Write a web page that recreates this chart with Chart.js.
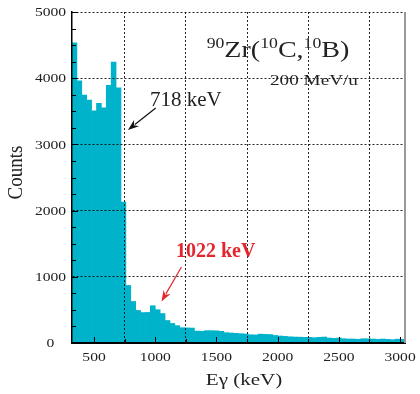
<!DOCTYPE html>
<html><head><meta charset="utf-8">
<script src="https://cdn.jsdelivr.net/npm/chart.js@4/dist/chart.umd.min.js"></script>
<style>html,body{margin:0;padding:0;background:#fff}#wrap{width:420px;height:394px}</style>
</head><body><div id="wrap"><canvas id="c" width="420" height="394"></canvas></div>
<script>
// Histogram bins (keV, bin centres, 40 keV wide)
const binCenters = [340,380,420,460,500,540,580,620,660,700,740,780,820,860,900,940,980,1020,1060,1100,1140,1180,1220,1260,1300,1340,1380,1420,1460,1500,1540,1580,1620,1660,1700,1740,1780,1820,1860,1900,1940,1980,2020,2060,2100,2140,2180,2220,2260,2300,2340,2380,2420,2460,2500,2540,2580,2620,2660,2700,2740,2780,2820,2860,2900,2940,2980,3020];
// Counts per bin
const counts = [4535,3962,3745,3670,3508,3620,3554,3891,4243,3855,2127,869,627,492,460,462,563,503,445,340,295,262,231,228,226,180,176,186,186,184,176,156,151,146,141,136,124,122,134,130,128,114,106,100,94,90,88,86,85,80,86,90,75,70,75,65,60,60,55,65,64,60,55,60,55,50,58,55];
// Axis ticks
const xTickLabels = [500,1000,1500,2000,2500,3000];
const yTickLabels = [0,1000,2000,3000,4000,5000];
const xMinorTicks = [500,750,1000,1250,1500,1750,2000,2250,2500,2750,3000];
const yMinorTicks = [0,250,500,750,1000,1250,1500,1750,2000,2250,2500,2750,3000,3250,3500,3750,4000,4250,4500,4750,5000];
const xRange = [320, 3040];
const yRange = [0, 5000];

const SERIF = '"Liberation Serif","Times New Roman",serif';
const BAR = '#00b2ca';

function txt(ctx, s, x, y, font, color, sx, align, base) {
  ctx.save();
  ctx.font = font; ctx.fillStyle = color;
  ctx.textBaseline = base || 'alphabetic';
  const w = ctx.measureText(s).width * sx;
  let x0 = x;
  if (align === 'center') x0 = x - w / 2; else if (align === 'right') x0 = x - w;
  ctx.translate(x0, y); ctx.scale(sx, 1);
  ctx.textAlign = 'left';
  ctx.fillText(s, 0, 0);
  ctx.restore();
}
function arrow(ctx, x1, y1, x2, y2, color, headLen, headW) {
  const ang = Math.atan2(y2 - y1, x2 - x1);
  ctx.save();
  ctx.strokeStyle = color; ctx.fillStyle = color; ctx.lineWidth = 1.2;
  ctx.beginPath();
  ctx.moveTo(x1, y1);
  ctx.lineTo(x2 - Math.cos(ang) * headLen * 0.8, y2 - Math.sin(ang) * headLen * 0.8);
  ctx.stroke();
  ctx.translate(x2, y2); ctx.rotate(ang);
  ctx.beginPath();
  ctx.moveTo(0, 0); ctx.lineTo(-headLen, -headW / 2); ctx.lineTo(-headLen * 0.7, 0); ctx.lineTo(-headLen, headW / 2);
  ctx.closePath(); ctx.fill();
  ctx.restore();
}

const deco = {
  id: 'deco',
  afterDraw(chart) {
    const {ctx, chartArea: a, scales: {x, y}} = chart;
    ctx.save();
    ctx.strokeStyle = '#000'; ctx.lineWidth = 1;
    xMinorTicks.forEach(v => {
      const px = Math.round(x.getPixelForValue(v)) + 0.5;
      const len = v % 500 === 0 ? 6 : 4;
      ctx.beginPath(); ctx.moveTo(px, a.bottom); ctx.lineTo(px, a.bottom - len); ctx.stroke();
    });
    yMinorTicks.forEach(v => {
      const py = Math.round(y.getPixelForValue(v)) + 0.5;
      const len = v % 1000 === 0 ? 6 : 4;
      ctx.beginPath(); ctx.moveTo(a.left, py); ctx.lineTo(a.left + len, py); ctx.stroke();
    });
    // right frame
    ctx.strokeStyle = '#999'; ctx.lineWidth = 2;
    ctx.beginPath(); ctx.moveTo(a.right, a.top); ctx.lineTo(a.right, a.bottom); ctx.stroke();
    ctx.restore();

    // tick labels
    xTickLabels.forEach(v => txt(ctx, String(v), x.getPixelForValue(v), 358, '12px ' + SERIF, '#222', 1.3, 'center', 'middle'));
    yTickLabels.forEach(v => txt(ctx, String(v), 50.5, y.getPixelForValue(v) + 1, '12px ' + SERIF, '#222', 1.3, 'center', 'middle'));

    // axis titles
    txt(ctx, 'Eγ (keV)', 244, 385, '17.5px ' + SERIF, '#222', 1.2, 'center');
    ctx.save();
    ctx.translate(22, 172.5); ctx.scale(1.15, 1); ctx.rotate(-Math.PI / 2);
    ctx.font = '19px ' + SERIF; ctx.fillStyle = '#222'; ctx.textAlign = 'center'; ctx.textBaseline = 'alphabetic';
    ctx.fillText('Counts', 0, 0);
    ctx.restore();

    // reaction label
    const parts = [['90', true], ['Zr(', false], ['10', true], ['C,', false], ['10', true], ['B)', false]];
    let cx = x.getPixelForValue(1420);
    const by = y.getPixelForValue(4325);
    const sx = 1.22;
    parts.forEach(([s, sup]) => {
      const f = (sup ? '14.5px ' : '23px ') + SERIF;
      ctx.save(); ctx.font = f; const w = ctx.measureText(s).width * sx; ctx.restore();
      txt(ctx, s, cx, sup ? by - 8.5 : by, f, '#222', sx, 'left');
      cx += w;
    });
    txt(ctx, '200 MeV/u', x.getPixelForValue(1937), y.getPixelForValue(3897), '15px ' + SERIF, '#222', 1.28, 'left');

    // 718 keV
    txt(ctx, '718 keV', x.getPixelForValue(957), y.getPixelForValue(3580), '20px ' + SERIF, '#222', 1.05, 'left');
    arrow(ctx, x.getPixelForValue(1004), y.getPixelForValue(3550), x.getPixelForValue(777), y.getPixelForValue(3218), '#111', 11, 8);
    // 1022 keV
    txt(ctx, '1022 keV', x.getPixelForValue(1169), y.getPixelForValue(1299), 'bold 20px ' + SERIF, '#e3262e', 1.0, 'left');
    arrow(ctx, x.getPixelForValue(1214), y.getPixelForValue(1148), x.getPixelForValue(1051), y.getPixelForValue(627), '#e3262e', 11, 8);
  }
};

new Chart(document.getElementById('c'), {
  type: 'bar',
  data: {
    datasets: [{
      data: binCenters.map((c, i) => ({x: c, y: counts[i]})),
      backgroundColor: BAR,
      borderWidth: 0,
      barPercentage: 1,
      categoryPercentage: 1,
      grouped: false
    }]
  },
  options: {
    responsive: false,
    animation: false,
    devicePixelRatio: 1,
    layout: {padding: {top: 12, right: 15, left: 0, bottom: 0}},
    plugins: {legend: {display: false}, tooltip: {enabled: false}},
    scales: {
      x: {
        type: 'linear', min: xRange[0], max: xRange[1], offset: false,
        afterBuildTicks: s => { s.ticks = xTickLabels.map(v => ({value: v})); },
        afterFit: s => { s.height = 51; },
        ticks: {display: false},
        grid: {color: 'rgba(0,0,0,0.85)', lineWidth: 1, drawTicks: false, z: 1},
        border: {display: true, color: '#000', width: 2, dash: [2, 2], z: 2}
      },
      y: {
        type: 'linear', min: yRange[0], max: yRange[1],
        afterBuildTicks: s => { s.ticks = yTickLabels.map(v => ({value: v})); },
        afterFit: s => { s.width = 72; },
        ticks: {display: false},
        grid: {color: 'rgba(0,0,0,0.85)', lineWidth: 1, drawTicks: false, z: 1},
        border: {display: true, color: '#000', width: 1.5, dash: [2, 2], z: 2}
      }
    }
  },
  plugins: [deco]
});
</script>
</body></html>
